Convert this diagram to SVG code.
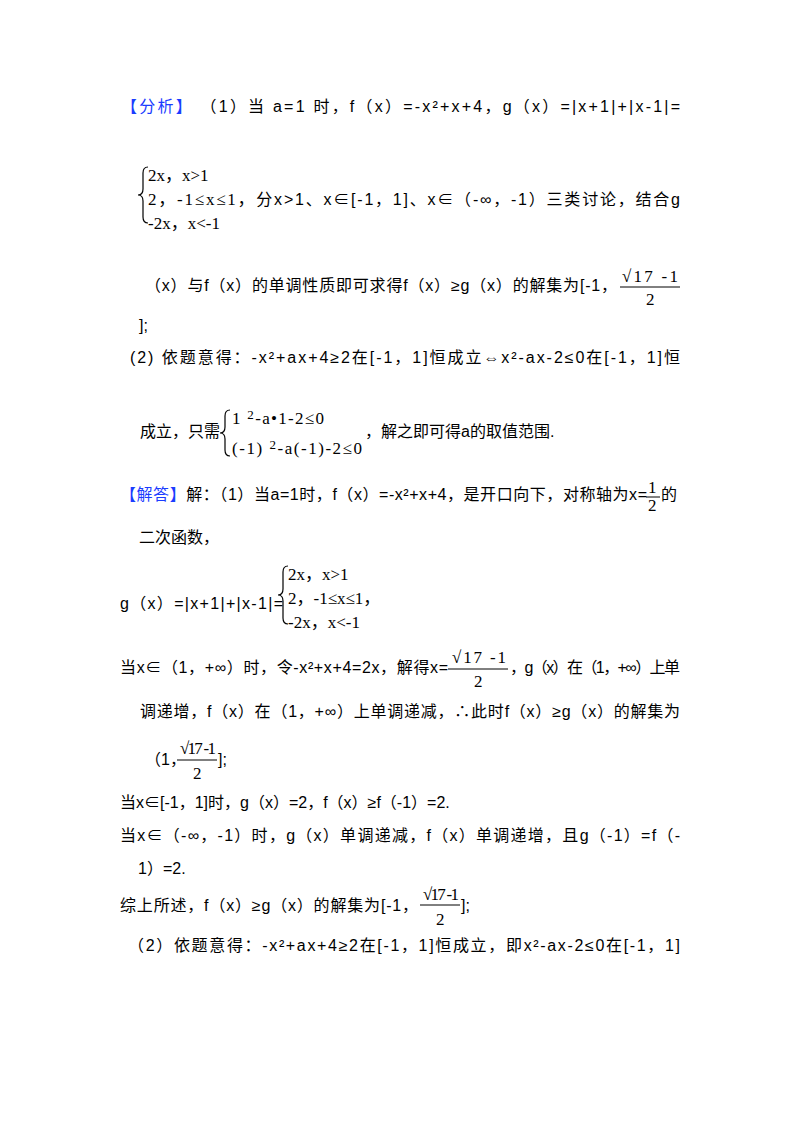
<svg xmlns="http://www.w3.org/2000/svg" width="800" height="1132" viewBox="0 0 800 1132">
<style>
text{font-family:"Liberation Sans","Noto Sans CJK SC",sans-serif;font-size:16px;fill:#000}
.m{font-family:"Liberation Serif","Noto Sans CJK SC",serif;font-size:17px}
.s{font-family:"Liberation Serif",serif;font-size:17px}
.b{fill:#1a3cff}
.br{fill:none;stroke:#000;stroke-width:1.2}
.bar{stroke:#000;stroke-width:1}
</style>
<rect width="800" height="1132" fill="#fff"/>
<g id="analysis">
<text x="121" y="112" textLength="559" lengthAdjust="spacing"><tspan class="b">【分析】</tspan> （1）当 a=1 时，f（x）=-x²+x+4，g（x）=|x+1|+|x-1|=</text>
<path class="br" d="M148,167 q-5,0 -5,6 v16 q0,6 -5,6 q5,0 5,6 v16 q0,6 5,6"/>
<text class="m" x="148" y="181">2x，x&gt;1</text>
<text x="148" y="205" textLength="532" lengthAdjust="spacing"><tspan class="m">2，-1≤x≤1，</tspan>分x&gt;1、x∈[-1，1]、x∈（-∞，-1）三类讨论，结合g</text>
<text class="m" x="148" y="229">-2x，x&lt;-1</text>
<text x="145" y="291" textLength="472" lengthAdjust="spacing">（x）与f（x）的单调性质即可求得f（x）≥g（x）的解集为[-1，</text>
<text class="s" x="622" y="282" textLength="56">√17 -1</text>
<line class="bar" x1="620" y1="287" x2="680" y2="287"/>
<text class="s" x="646" y="305">2</text>
<text x="139" y="331">];</text>
<text x="130" y="363" textLength="550" lengthAdjust="spacing">(2) 依题意得：-x²+ax+4≥2在[-1，1]恒成立⇔x²-ax-2≤0在[-1，1]恒</text>
<text x="140" y="437">成立，只需</text>
<path class="br" d="M230,410 q-5,0 -5,6 v11 q0,6 -5,6 q5,0 5,6 v11 q0,6 5,6"/>
<text class="s" x="232" y="424" textLength="92">1 <tspan dy="-5" font-size="13">2</tspan><tspan dy="5">-a•1-2≤0</tspan></text>
<text class="s" x="232" y="454" textLength="130">(-1) <tspan dy="-5" font-size="13">2</tspan><tspan dy="5">-a(-1)-2≤0</tspan></text>
<text x="365" y="437">，解之即可得a的取值范围.</text>
</g>
<g id="solution">
<text x="120" y="500" textLength="527" lengthAdjust="spacing"><tspan class="b">【解答】</tspan>解：（1）当a=1时，f（x）=-x²+x+4，是开口向下，对称轴为x=</text>
<text class="s" x="648" y="493" font-size="14">1</text>
<line class="bar" x1="646" y1="497" x2="660" y2="497"/>
<text class="s" x="648" y="511" font-size="14">2</text>
<text x="661" y="500">的</text>
<text x="139" y="543">二次函数，</text>
<text x="120" y="609" textLength="163" lengthAdjust="spacing">g（x）=|x+1|+|x-1|=</text>
<path class="br" d="M288,566 q-5,0 -5,6 v17 q0,6 -5,6 q5,0 5,6 v17 q0,6 5,6"/>
<text class="m" x="288" y="580">2x，x&gt;1</text>
<text class="m" x="288" y="604">2，-1≤x≤1，</text>
<text class="m" x="288" y="628">-2x，x&lt;-1</text>
<text x="120" y="673" textLength="328" lengthAdjust="spacing">当x∈（1，+∞）时，令-x²+x+4=2x，解得x=</text>
<text class="s" x="452" y="663" textLength="54">√17 -1</text>
<line class="bar" x1="448" y1="669" x2="508" y2="669"/>
<text class="s" x="474" y="687">2</text>
<text x="510" y="673" textLength="170" lengthAdjust="spacing">，g（x）在（1，+∞）上单</text>
<text x="140" y="717" textLength="540" lengthAdjust="spacing">调递增，f（x）在（1，+∞）上单调递减，∴此时f（x）≥g（x）的解集为</text>
<text x="145" y="765">（1，</text>
<text class="s" x="180" y="754" textLength="36">√17 -1</text>
<line class="bar" x1="177" y1="760" x2="217" y2="760"/>
<text class="s" x="193" y="779">2</text>
<text x="218" y="765">];</text>
<text x="120" y="808">当x∈[-1，1]时，g（x）=2，f（x）≥f（-1）=2.</text>
<text x="120" y="841" textLength="560" lengthAdjust="spacing">当x∈（-∞，-1）时，g（x）单调递减，f（x）单调递增，且g（-1）=f（-</text>
<text x="138" y="874">1）=2.</text>
<text x="120" y="911" textLength="298" lengthAdjust="spacing">综上所述，f（x）≥g（x）的解集为[-1，</text>
<text class="s" x="423" y="900" textLength="36">√17 -1</text>
<line class="bar" x1="420" y1="905" x2="460" y2="905"/>
<text class="s" x="436" y="925">2</text>
<text x="461" y="911">];</text>
<text x="128" y="951" textLength="552" lengthAdjust="spacing">（2）依题意得：-x²+ax+4≥2在[-1，1]恒成立，即x²-ax-2≤0在[-1，1]</text>
</g>
</svg>
